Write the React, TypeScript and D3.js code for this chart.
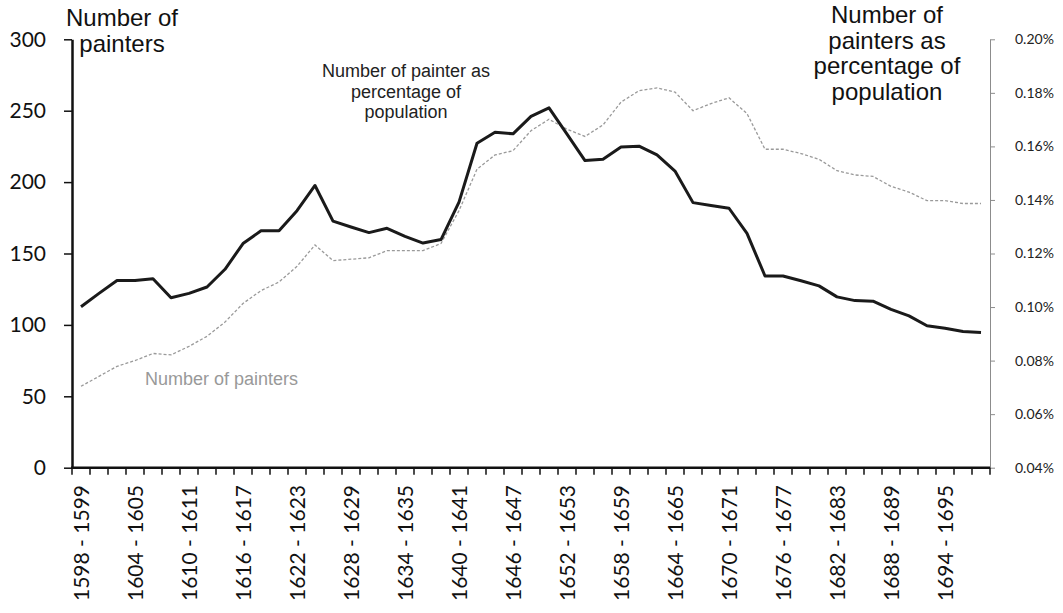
import { useEffect, useRef } from 'react'
import * as d3 from 'd3'

const WIDTH = 1063
const HEIGHT = 613
const PLOT = { left: 72, right: 990, top: 39.3, bottom: 467.7 }
const TICK_FONT = 'Lato, "Open Sans", sans-serif'
const TITLE_FONT = '"Liberation Sans", Arial, sans-serif'

const PERIODS = [
  '1598 - 1599', '1600 - 1601', '1602 - 1603', '1604 - 1605', '1606 - 1607', '1608 - 1609',
  '1610 - 1611', '1612 - 1613', '1614 - 1615', '1616 - 1617', '1618 - 1619', '1620 - 1621',
  '1622 - 1623', '1624 - 1625', '1626 - 1627', '1628 - 1629', '1630 - 1631', '1632 - 1633',
  '1634 - 1635', '1636 - 1637', '1638 - 1639', '1640 - 1641', '1642 - 1643', '1644 - 1645',
  '1646 - 1647', '1648 - 1649', '1650 - 1651', '1652 - 1653', '1654 - 1655', '1656 - 1657',
  '1658 - 1659', '1660 - 1661', '1662 - 1663', '1664 - 1665', '1666 - 1667', '1668 - 1669',
  '1670 - 1671', '1672 - 1673', '1674 - 1675', '1676 - 1677', '1678 - 1679', '1680 - 1681',
  '1682 - 1683', '1684 - 1685', '1686 - 1687', '1688 - 1689', '1690 - 1691', '1692 - 1693',
  '1694 - 1695', '1696 - 1697', '1698 - 1699',
]

// number of painters (left axis) – grey dashed line
const PAINTERS = [
  57, 64, 71, 75, 80, 79, 85, 92, 102, 115, 124, 130, 141, 156, 145, 146, 147,
  152, 152, 152, 157, 180, 209, 219, 222, 236, 244, 237, 232, 240, 256, 264, 266,
  263, 250, 255, 259, 248, 223, 223, 220, 216, 208, 205, 204, 197, 193, 187, 187,
  185, 185,
]

// painters as percentage of population (right axis, in %) – black line
const PAINTERS_PCT = [
  0.1001, 0.1051, 0.1099, 0.1099, 0.1106, 0.1035, 0.1051, 0.1075, 0.1141, 0.1237,
  0.1285, 0.1285, 0.1360, 0.1454, 0.1321, 0.1299, 0.1278, 0.1294, 0.1264, 0.1239,
  0.1252, 0.1392, 0.1612, 0.1653, 0.1647, 0.1712, 0.1744, 0.1646, 0.1547, 0.1552,
  0.1598, 0.1601, 0.1568, 0.1508, 0.1390, 0.1379, 0.1369, 0.1275, 0.1116, 0.1116,
  0.1098, 0.1079, 0.1038, 0.1024, 0.1022, 0.0991, 0.0967, 0.0930, 0.0921, 0.0909,
  0.0905,
]

const LEFT_TICKS = [0, 50, 100, 150, 200, 250, 300]
const RIGHT_TICKS = [0.04, 0.06, 0.08, 0.1, 0.12, 0.14, 0.16, 0.18, 0.2]

export default function App() {
  const svgRef = useRef<SVGSVGElement>(null)

  useEffect(() => {
    const svg = d3.select(svgRef.current)
    svg.selectAll('*').remove()

    // ── Scales ──────────────────────────────────────────────────────────────
    const x = d3.scaleBand(PERIODS, [PLOT.left, PLOT.right]).padding(0)
    const cx = (p: string) => (x(p) ?? 0) + x.bandwidth() / 2
    const yLeft = d3.scaleLinear([0, 300], [PLOT.bottom, PLOT.top])
    const yRight = d3.scaleLinear([0.04, 0.2], [PLOT.bottom, PLOT.top])

    // ── Lines ───────────────────────────────────────────────────────────────
    const lineLeft = d3.line<number>().x((_, i) => cx(PERIODS[i])).y(d => yLeft(d))
    const lineRight = d3.line<number>().x((_, i) => cx(PERIODS[i])).y(d => yRight(d))

    svg.append('path')
      .attr('d', lineLeft(PAINTERS) ?? '')
      .attr('fill', 'none').attr('stroke', '#9a9a9a').attr('stroke-width', 1.3)
      .attr('stroke-dasharray', '3,2')

    svg.append('path')
      .attr('d', lineRight(PAINTERS_PCT) ?? '')
      .attr('fill', 'none').attr('stroke', '#1a1a1a').attr('stroke-width', 3)
      .attr('stroke-linejoin', 'round')

    // ── Left axis ───────────────────────────────────────────────────────────
    svg.append('g')
      .attr('transform', `translate(${PLOT.left},0)`)
      .call(d3.axisLeft(yLeft).tickValues(LEFT_TICKS).tickSize(8).tickPadding(18).tickSizeOuter(0))
      .call(ag => ag.select('.domain').attr('stroke', '#111').attr('stroke-width', 2.5))
      .call(ag => ag.selectAll('.tick line').attr('stroke', '#111').attr('stroke-width', 1.5))
      .call(ag => ag.selectAll('text').attr('fill', '#111').attr('font-size', 21)
        .attr('font-family', TICK_FONT))

    // ── Right axis ──────────────────────────────────────────────────────────
    svg.append('g')
      .attr('transform', `translate(${PLOT.right},0)`)
      .call(d3.axisRight(yRight).tickValues(RIGHT_TICKS).tickSize(5).tickPadding(20).tickSizeOuter(0)
        .tickFormat(d => `${(+d).toFixed(2)}%`))
      .call(ag => ag.select('.domain').attr('stroke', '#8c8c8c').attr('stroke-width', 1))
      .call(ag => ag.selectAll('.tick line').attr('stroke', '#8c8c8c'))
      .call(ag => ag.selectAll('text').attr('fill', '#222').attr('font-size', 14)
        .attr('font-family', TICK_FONT))

    // ── Category axis ───────────────────────────────────────────────────────
    const xg = svg.append('g')
    const bounds = [...PERIODS.map(p => x(p) ?? 0), PLOT.right]
    xg.selectAll('line.tick')
      .data(bounds)
      .join('line')
      .attr('x1', d => d).attr('x2', d => d)
      .attr('y1', PLOT.bottom).attr('y2', PLOT.bottom + 7)
      .attr('stroke', '#111').attr('stroke-width', 1.5)
    xg.append('line')
      .attr('x1', PLOT.left - 1).attr('x2', PLOT.right)
      .attr('y1', PLOT.bottom).attr('y2', PLOT.bottom)
      .attr('stroke', '#111').attr('stroke-width', 2.5)

    xg.selectAll('text')
      .data(PERIODS.filter((_, i) => i % 3 === 0))
      .join('text')
      .attr('transform', d => `translate(${cx(d) + 1},485) rotate(-90)`)
      .attr('text-anchor', 'end').attr('dy', '0.35em')
      .attr('font-size', 21).attr('font-family', TICK_FONT).attr('fill', '#111')
      .text(d => d)

    // ── Titles / annotations ────────────────────────────────────────────────
    const multi = (lines: string[], xPos: number, y0: number, step: number, size: number, color: string) => {
      lines.forEach((t, i) => {
        svg.append('text')
          .attr('x', xPos).attr('y', y0 + i * step)
          .attr('text-anchor', 'middle').attr('font-size', size)
          .attr('font-family', TITLE_FONT).attr('fill', color)
          .text(t)
      })
    }
    multi(['Number of', 'painters'], 122, 26, 26, 24, '#111')
    multi(['Number of', 'painters as', 'percentage of', 'population'], 887, 23, 25.7, 24, '#111')
    multi(['Number of painter as', 'percentage of', 'population'], 406, 77, 20.5, 18, '#222')

    svg.append('text')
      .attr('x', 145).attr('y', 385)
      .attr('font-size', 18).attr('font-family', TITLE_FONT).attr('fill', '#999')
      .text('Number of painters')
  }, [])

  return (
    <div style={{ position: 'absolute', left: 0, top: 0 }}>
      <svg ref={svgRef} width={WIDTH} height={HEIGHT} style={{ display: 'block', background: '#fff' }} />
    </div>
  )
}
